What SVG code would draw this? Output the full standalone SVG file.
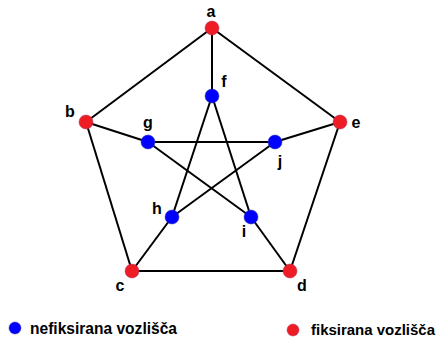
<svg xmlns="http://www.w3.org/2000/svg" width="440" height="340" viewBox="0 0 440 340">
<style>
.e{stroke:#000;stroke-width:2;fill:none}
.fx{fill:#ee1c25;stroke:#b03060;stroke-width:0.5}
.nf{fill:#0000ff;stroke:#3030a0;stroke-width:0.5}
text{font-family:"Liberation Sans",Arial,sans-serif;font-weight:bold;font-size:16px;fill:#000}
.lg{font-size:16px}
.lr{font-size:14px}
</style>
<rect width="440" height="340" fill="#fff"/>
<g id="edges" class="e">
<line x1="212" y1="28" x2="86" y2="122"/>
<line x1="86" y1="122" x2="132" y2="271"/>
<line x1="132" y1="271" x2="290" y2="271"/>
<line x1="290" y1="271" x2="340" y2="122"/>
<line x1="340" y1="122" x2="212" y2="28"/>
<line x1="212" y1="28" x2="212" y2="96"/>
<line x1="86" y1="122" x2="148" y2="142"/>
<line x1="340" y1="122" x2="275" y2="142"/>
<line x1="132" y1="271" x2="172" y2="217"/>
<line x1="290" y1="271" x2="251" y2="217"/>
<line x1="212" y1="96" x2="172" y2="217"/>
<line x1="212" y1="96" x2="251" y2="217"/>
<line x1="148" y1="142" x2="275" y2="142"/>
<line x1="148" y1="142" x2="251" y2="217"/>
<line x1="275" y1="142" x2="172" y2="217"/>
</g>
<g id="a"><circle class="fx" cx="212" cy="28" r="7"/><text x="211" y="17" text-anchor="middle">a</text></g>
<g id="b"><circle class="fx" cx="86" cy="122" r="7"/><text x="70" y="117" text-anchor="middle">b</text></g>
<g id="c"><circle class="fx" cx="132" cy="271" r="7"/><text x="120" y="291" text-anchor="middle">c</text></g>
<g id="d"><circle class="fx" cx="290" cy="271" r="7"/><text x="302" y="291" text-anchor="middle">d</text></g>
<g id="e"><circle class="fx" cx="340" cy="122" r="7"/><text x="356" y="128" text-anchor="middle">e</text></g>
<g id="f"><circle class="nf" cx="212" cy="96" r="7"/><text x="224" y="87" text-anchor="middle">f</text></g>
<g id="g"><circle class="nf" cx="148" cy="142" r="7"/><text x="148" y="128" text-anchor="middle">g</text></g>
<g id="j"><circle class="nf" cx="275" cy="142" r="7"/><text x="280" y="167" text-anchor="middle">j</text></g>
<g id="h"><circle class="nf" cx="172" cy="217" r="7"/><text x="157" y="214" text-anchor="middle">h</text></g>
<g id="i"><circle class="nf" cx="251" cy="217" r="7"/><text x="244" y="237" text-anchor="middle">i</text></g>
<g id="legend">
<circle class="nf" cx="15" cy="328" r="6"/>
<text class="lg" x="30" y="334" textLength="147" lengthAdjust="spacingAndGlyphs">nefiksirana vozlišča</text>
<circle class="fx" cx="293" cy="330" r="6"/>
<text class="lr" x="311" y="335" textLength="124" lengthAdjust="spacingAndGlyphs">fiksirana vozlišča</text>
</g>
</svg>
